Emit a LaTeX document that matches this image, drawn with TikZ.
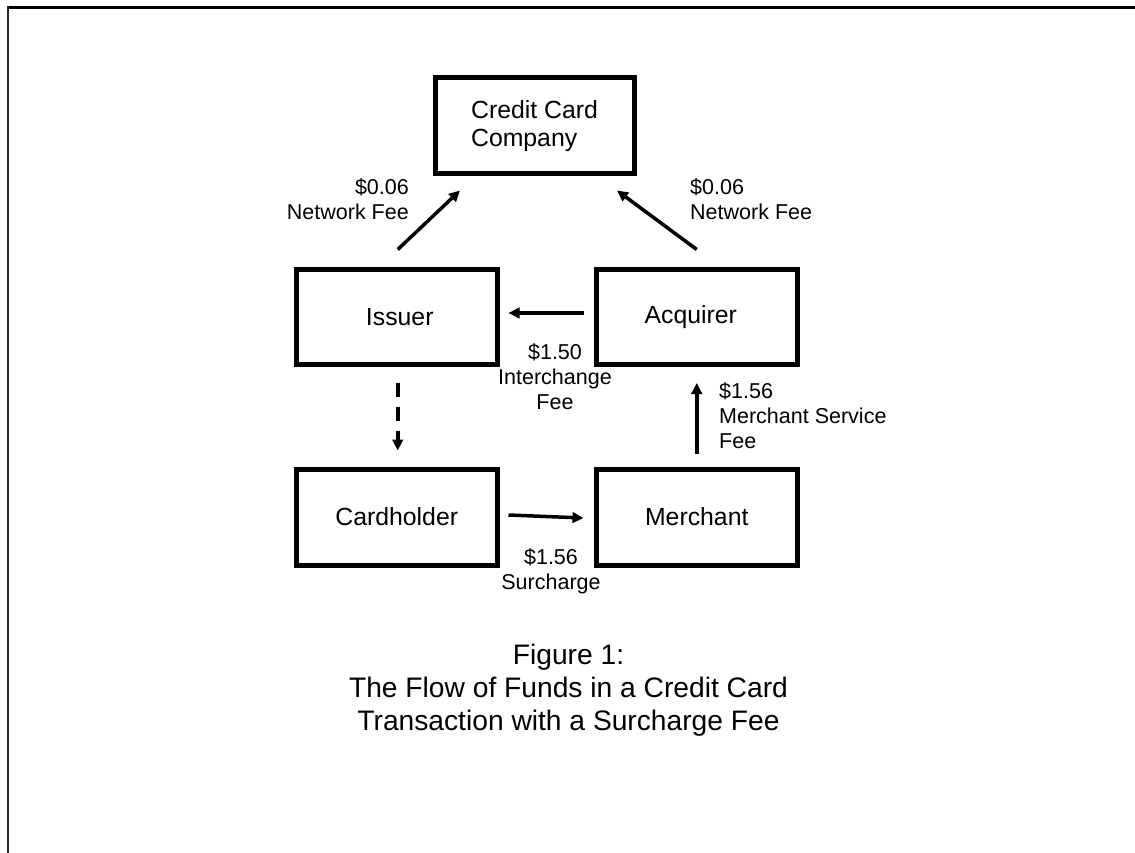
\documentclass[tikz,border=0pt]{standalone}
\usepackage{fontspec}
\setmainfont{Liberation Sans}
\usetikzlibrary{arrows.meta,calc}
\begin{document}
\begin{tikzpicture}[x=1pt,y=-1pt,
  boxnode/.style={draw,line width=5pt,inner sep=0pt,minimum width=200.5pt,minimum height=95pt,font=\fontsize{24.8}{28}\selectfont},
  lbl/.style={inner sep=0pt,font=\fontsize{21.5}{25}\selectfont},
  flow/.style={line width=3.5pt,-{Triangle[length=11pt,width=10.5pt]}},
  dashflow/.style={flow,dash pattern=on 14pt off 10pt}]
\useasboundingbox (0,0) rectangle (1135,853);
% frame
\draw[line width=3pt] (7,7.5) -- (1135,7.5);
\draw[line width=2pt,black!85] (7.5,6) -- (7.5,853);
% boxes
\node[boxnode,minimum width=199pt,minimum height=96pt,align=left] (ccc) at (534.5,126) {Credit Card\\Company};
\node[boxnode] (issuer) at (396.75,317) {\hspace*{6pt}Issuer};
\node[boxnode] (acquirer) at (696.75,317) {Acquirer\hspace*{12pt}};
\node[boxnode,minimum height=96pt] (cardholder) at (396.75,517) {Cardholder};
\node[boxnode,minimum height=96pt] (merchant) at (696.75,517) {Merchant};
% connector end points
\coordinate (i1) at ($(issuer.north)+(1,-17.5)$);
\coordinate (c1) at ($(ccc.south)+(-74.5,14)$);
\coordinate (a1) at ($(acquirer.north)+(0,-17.5)$);
\coordinate (c2) at ($(ccc.south)+(82.5,14)$);
\coordinate (a2) at ($(acquirer.west)+(-10.5,-4)$);
\coordinate (i2) at ($(issuer.east)+(9,-4)$);
\coordinate (i3) at ($(issuer.south)+(1,15.5)$);
\coordinate (h1) at ($(cardholder.north)+(1,-16)$);
\coordinate (h2) at ($(cardholder.east)+(9,-2)$);
\coordinate (m1) at ($(merchant.west)+(-10.5,1)$);
\coordinate (m2) at ($(merchant.north)+(0,-13)$);
\coordinate (a3) at ($(acquirer.south)+(0,16)$);
% connectors
\draw[flow] (i1) -- (c1);
\draw[flow] (a1) -- (c2);
\draw[flow] (a2) -- (i2);
\draw[dashflow] (i3) -- (h1);
\draw[flow] (h2) -- (m1);
\draw[flow] (m2) -- (a3);
% labels
\node[lbl,anchor=north east,align=right] (lnf) at (409,178) {\$0.06\\Network Fee};
\node[lbl,anchor=north west,align=left] (rnf) at (690,178) {\$0.06\\Network Fee};
\node[lbl,anchor=north,align=center] (icf) at (555,343) {\$1.50\\Interchange\\Fee};
\node[lbl,anchor=north west,align=left] (msf) at (719,382) {\$1.56\\Merchant Service\\Fee};
\node[lbl,anchor=north,align=center] (sur) at (551,548) {\$1.56\\Surcharge};
% caption
\node[inner sep=0pt,anchor=north,align=center,font=\fontsize{28.2}{33}\selectfont] (cap) at (568.5,644) {Figure 1:\\The Flow of Funds in a Credit Card\\Transaction with a Surcharge Fee};
\end{tikzpicture}
\end{document}
